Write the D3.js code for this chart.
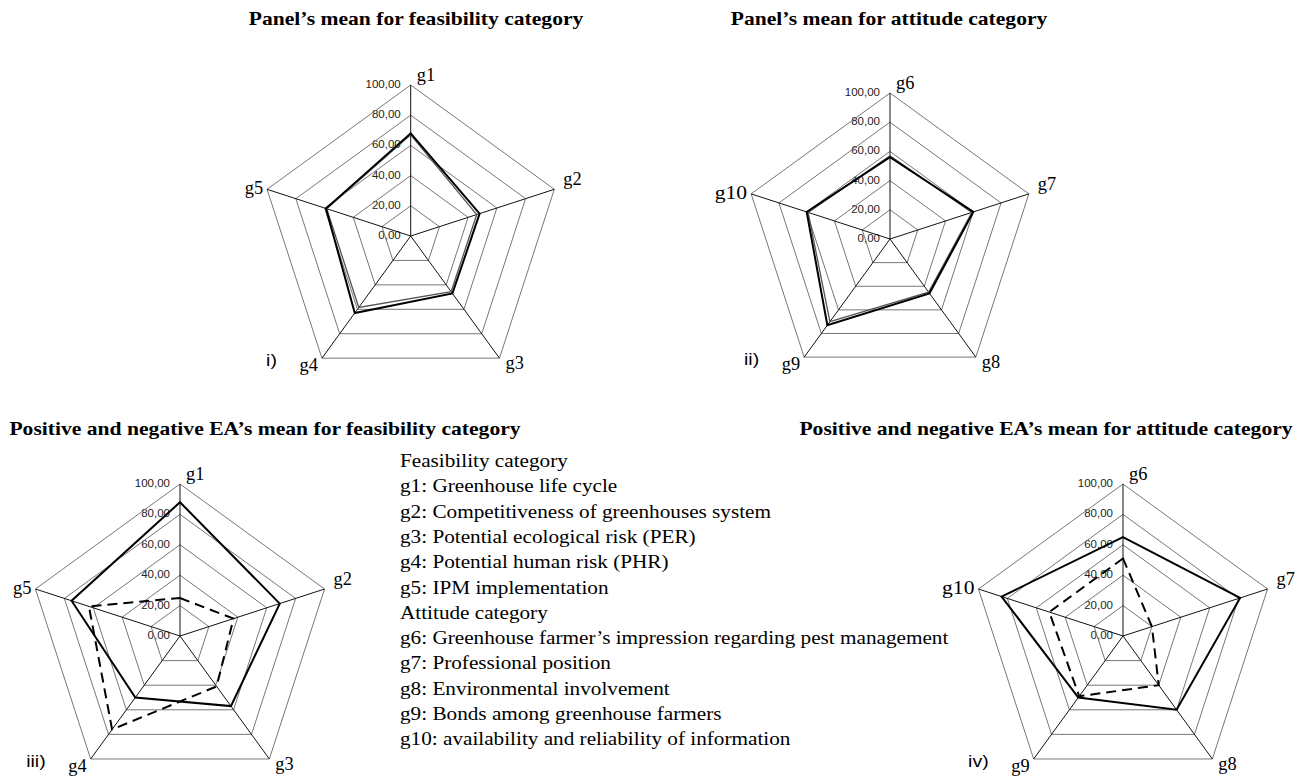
<!DOCTYPE html>
<html>
<head>
<meta charset="utf-8">
<script src="https://cdn.jsdelivr.net/npm/d3@7"></script>
<style>
  body { margin: 0; background: #fff; }
  svg { display: block; }
</style>
</head>
<body>
<div id="vis"></div>
<script>
// axis names and grid ticks
const AXES_FEAS = ["g1", "g2", "g3", "g4", "g5"];
const AXES_ATT = ["g6", "g7", "g8", "g9", "g10"];
const TICKS = [0, 20, 40, 60, 80, 100];
const TICK_LABELS = ["0,00", "20,00", "40,00", "60,00", "80,00", "100,00"];

// values
const panelFeas1 = [68, 48, 47, 63, 59];
const panelFeas2 = [67, 46, 45.5, 58.5, 58.5];
const panelAtt1 = [56, 60, 46, 73, 60];
const panelAtt2 = [57, 59, 45, 70, 59];
const posFeas = [88, 69, 57, 50, 75];
const negFeas = [25, 37, 41, 76, 63];
const posAtt = [65, 81, 60, 50, 84];
const negAtt = [51, 20, 40, 49, 51];

const LEGEND = [
  "Feasibility category",
  "g1: Greenhouse life cycle",
  "g2: Competitiveness of greenhouses system",
  "g3: Potential ecological risk (PER)",
  "g4: Potential human risk (PHR)",
  "g5: IPM implementation",
  "Attitude category",
  "g6: Greenhouse farmer\u2019s impression regarding pest management",
  "g7: Professional position",
  "g8: Environmental involvement",
  "g9: Bonds among greenhouse farmers",
  "g10: availability and reliability of information"
];

const WIDTH = 1304, HEIGHT = 780;
const SERIF = "'Liberation Serif', 'Times New Roman', serif";
const SANS = "'Liberation Sans', Arial, sans-serif";

const SOLID = {stroke: "#000", width: 2, dash: null};
const THIN = {stroke: "#555", width: 1.3, dash: null};
const DASH = {stroke: "#000", width: 2, dash: "10,6"};

const charts = [
  {cx: 410.7, cy: 236, r: 151, axes: AXES_FEAS, num: "i)",
   title: "Panel\u2019s mean for feasibility category", tx: 416, ty: 25,
   series: [[panelFeas2, THIN], [panelFeas1, SOLID]]},
  {cx: 890, cy: 239, r: 146, axes: AXES_ATT, num: "ii)",
   title: "Panel\u2019s mean for attitude category", tx: 889, ty: 25,
   series: [[panelAtt2, THIN], [panelAtt1, SOLID]]},
  {cx: 180, cy: 636, r: 152, axes: AXES_FEAS, num: "iii)",
   title: "Positive and negative EA\u2019s mean for feasibility category", tx: 265, ty: 435,
   series: [[negFeas, DASH], [posFeas, SOLID]]},
  {cx: 1123, cy: 636, r: 152, axes: AXES_ATT, num: "iv)",
   title: "Positive and negative EA\u2019s mean for attitude category", tx: 1046, ty: 435,
   series: [[negAtt, DASH], [posAtt, SOLID]]}
];

const svg = d3.select("#vis").append("svg")
  .attr("width", WIDTH)
  .attr("height", HEIGHT);

const ang = i => i * 2 * Math.PI / 5;
// the source image is a bit wider than tall, text is stretched sideways
const place = (x, y, sx) => "translate(" + x + "," + y + ") scale(" + sx + ",1)";

// label offsets per axis position (top, upper right, lower right, lower left, upper left)
const LBL = [
  {dx: 6, dy: -4, anchor: "start"},
  {dx: 9, dy: -4, anchor: "start"},
  {dx: 6, dy: 11, anchor: "start"},
  {dx: -4, dy: 13, anchor: "end"},
  {dx: -4, dy: 5, anchor: "end"}
];

charts.forEach(c => {
  const rScale = d3.scaleLinear().domain([0, 100]).range([0, c.r]);
  const g = svg.append("g").attr("transform", "translate(" + c.cx + "," + c.cy + ")");

  // tick labels go under the grid lines
  g.selectAll(".tick")
    .data(TICKS)
    .enter()
    .append("text")
      .attr("x", -10)
      .attr("y", d => -rScale(d) - 1)
      .attr("text-anchor", "end")
      .attr("dominant-baseline", "central")
      .attr("font-family", SANS)
      .attr("font-size", "11.5px")
      .attr("fill", "#222")
      .text((d, i) => TICK_LABELS[i]);

  const ring = d3.lineRadial()
    .angle((d, i) => ang(i))
    .radius(d => rScale(d))
    .curve(d3.curveLinearClosed);

  g.selectAll(".ring")
    .data(TICKS.slice(1))
    .enter()
    .append("path")
      .attr("d", t => ring(c.axes.map(() => t)))
      .attr("fill", "none")
      .attr("stroke", "#777")
      .attr("stroke-width", 1);

  g.selectAll(".spoke")
    .data(c.axes)
    .enter()
    .append("line")
      .attr("x1", 0).attr("y1", 0)
      .attr("x2", (d, i) => rScale(100) * Math.sin(ang(i)))
      .attr("y2", (d, i) => -rScale(100) * Math.cos(ang(i)))
      .attr("stroke", "#111")
      .attr("stroke-width", 1);

  c.series.forEach(([vals, st]) => {
    g.append("path")
      .attr("d", ring(vals))
      .attr("fill", "none")
      .attr("stroke", st.stroke)
      .attr("stroke-width", st.width)
      .attr("stroke-dasharray", st.dash)
      .attr("stroke-linejoin", "miter");
  });

  g.selectAll(".axlbl")
    .data(c.axes)
    .enter()
    .append("text")
      .attr("transform", (d, i) => place(
        rScale(100) * Math.sin(ang(i)) + LBL[i].dx,
        -rScale(100) * Math.cos(ang(i)) + LBL[i].dy,
        d.length > 2 ? 1.2 : 1.02))
      .attr("text-anchor", (d, i) => LBL[i].anchor)
      .attr("font-family", SERIF)
      .attr("font-size", "18px")
      .text(d => d);

  // roman numeral next to the lower left corner
  g.append("text")
    .attr("transform", place(
      rScale(100) * Math.sin(ang(3)) - 45,
      -rScale(100) * Math.cos(ang(3)) + 8, 1.15))
    .attr("text-anchor", "end")
    .attr("font-family", SANS)
    .attr("font-size", "17px")
    .text(c.num);

  svg.append("text")
    .attr("transform", place(c.tx, c.ty, 1.2))
    .attr("text-anchor", "middle")
    .attr("font-family", SERIF)
    .attr("font-weight", "bold")
    .attr("font-size", "18px")
    .text(c.title);
});

svg.append("g")
  .selectAll("text")
  .data(LEGEND)
  .enter()
  .append("text")
    .attr("transform", (d, i) => place(400, 467 + i * 25.3, 1.147))
    .attr("font-family", SERIF)
    .attr("font-size", "18.5px")
    .text(d => d);
</script>
</body>
</html>
